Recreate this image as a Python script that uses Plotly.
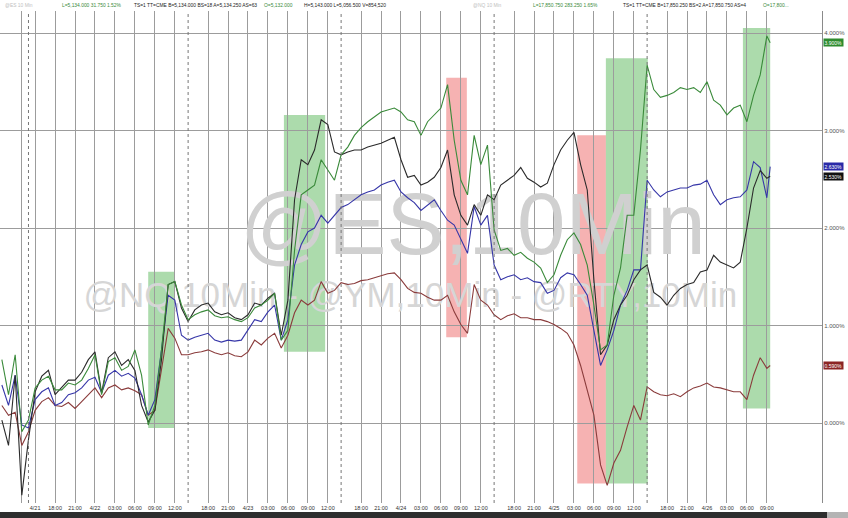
import plotly.graph_objects as go

# ---------------- data ----------------
# x = trading hours, 0 = 4/22 00:00 (daily 17:00-18:00 break removed)
hours = list(range(-14, 102)) + [101.5]

nq_pct = [0.65, 0.29, 0.70, -0.09, 0.03, 0.36, 0.44, 0.48, 0.34, 0.34, 0.41, 0.39, 0.44, 0.56,
          0.70, 0.29, 0.63, 0.67, 0.54, 0.58, 0.75, 0.49, -0.02, 0.18, 0.75, 1.42, 1.45, 1.21, 1.06, 1.11,
          1.14, 1.16, 1.10, 1.08, 1.09, 1.06, 1.04, 1.08, 1.18, 1.21, 1.26, 1.33, 0.85, 0.95,
          1.77, 2.34, 2.39, 2.44, 2.70, 2.59, 2.49, 2.75, 2.83, 2.95, 3.03, 3.09, 3.14, 3.19, 3.21, 3.23,
          3.19, 3.11, 3.09, 2.95, 3.09, 3.16, 3.23, 3.47, 2.90, 2.49, 2.34, 2.95, 2.65, 2.85,
          1.98, 1.77, 1.79, 1.72, 1.75, 1.69, 1.65, 1.59, 1.44, 1.52, 1.72, 1.88, 1.95, 1.83,
          1.62, 1.21, 0.75, 0.80, 1.31, 1.59, 2.13, 2.13, 2.80, 3.67, 3.42, 3.34, 3.36, 3.39,
          3.44, 3.42, 3.44, 3.39, 3.50, 3.31, 3.26, 3.16, 3.23, 3.26, 3.09, 3.36, 3.57, 3.97,
          3.90]

rty_pct = [0.03, -0.23, 0.49, -0.74, -0.17, 0.32, 0.48, 0.54, 0.29, 0.36, 0.44, 0.44, 0.52, 0.65,
           0.73, 0.31, 0.67, 0.73, 0.59, 0.65, 0.54, 0.18, 0.01, 0.13, 0.65, 1.42, 1.45, 1.18, 1.04, 1.16,
           1.21, 1.23, 1.14, 1.11, 1.13, 1.08, 1.06, 1.11, 1.23, 1.21, 1.28, 1.33, 0.90, 1.26,
           2.29, 2.70, 2.65, 2.80, 3.11, 3.06, 2.78, 2.75, 2.78, 2.80, 2.80, 2.83, 2.85, 2.87, 2.90, 2.93,
           2.70, 2.52, 2.54, 2.44, 2.47, 2.52, 2.62, 2.80, 2.34, 2.13, 2.03, 2.24, 2.13, 2.34,
           2.29, 2.44, 2.49, 2.54, 2.62, 2.51, 2.47, 2.42, 2.46, 2.65, 2.80, 2.90, 2.98, 2.65,
           2.39, 1.47, 0.70, 0.80, 1.06, 1.21, 1.31, 1.47, 1.57, 1.62, 1.34, 1.29, 1.21, 1.31,
           1.38, 1.42, 1.44, 1.55, 1.57, 1.72, 1.65, 1.62, 1.59, 1.65, 2.00, 2.41, 2.59, 2.51,
           2.53]

es_pct = [0.39, 0.18, 0.49, -0.02, -0.05, 0.24, 0.32, 0.36, 0.18, 0.21, 0.29, 0.31, 0.36, 0.44,
          0.47, 0.31, 0.49, 0.54, 0.48, 0.51, 0.46, 0.29, 0.08, 0.24, 0.75, 1.31, 1.26, 0.90, 0.85, 0.88,
          0.90, 0.92, 0.85, 0.83, 0.85, 0.84, 0.85, 0.95, 1.06, 1.04, 1.14, 1.21, 0.85, 1.06,
          1.62, 1.83, 1.96, 2.00, 2.13, 2.05, 2.13, 2.21, 2.24, 2.29, 2.34, 2.37, 2.39, 2.44, 2.47, 2.49,
          2.37, 2.31, 2.26, 2.18, 2.24, 2.29, 2.18, 2.08, 2.03, 1.88, 1.74, 2.22, 2.03, 2.13,
          1.62, 1.47, 1.50, 1.52, 1.47, 1.49, 1.45, 1.44, 1.33, 1.36, 1.49, 1.54, 1.52, 1.42,
          1.31, 0.95, 0.59, 0.75, 0.95, 1.21, 1.36, 1.57, 1.57, 2.49, 2.39, 2.32, 2.37, 2.39,
          2.41, 2.41, 2.44, 2.45, 2.49, 2.34, 2.24, 2.29, 2.31, 2.32, 2.39, 2.68, 2.62, 2.31,
          2.63]

ym_pct = [0.18, 0.08, 0.11, -0.23, -0.09, 0.13, 0.22, 0.26, 0.18, 0.17, 0.21, 0.15, 0.22, 0.29,
          0.36, 0.26, 0.36, 0.39, 0.34, 0.36, 0.33, 0.29, 0.08, 0.13, 0.56, 0.97, 0.87, 0.70, 0.70, 0.72,
          0.73, 0.75, 0.72, 0.70, 0.72, 0.69, 0.68, 0.73, 0.85, 0.80, 0.87, 0.92, 0.77, 0.90,
          1.13, 1.26, 1.21, 1.26, 1.45, 1.33, 1.36, 1.44, 1.42, 1.43, 1.46, 1.47, 1.49, 1.51, 1.53, 1.54,
          1.47, 1.38, 1.34, 1.33, 1.29, 1.26, 1.26, 1.31, 1.14, 1.01, 0.92, 1.42, 1.26, 1.21,
          1.11, 1.06, 1.10, 1.12, 1.08, 1.08, 1.06, 1.06, 1.04, 1.01, 0.97, 0.92, 0.80, 0.59,
          0.34, 0.08, -0.43, -0.64, -0.41, -0.28, -0.04, 0.18, 0.03, 0.37, 0.32, 0.29, 0.28, 0.30,
          0.27, 0.32, 0.36, 0.38, 0.41, 0.37, 0.36, 0.34, 0.32, 0.32, 0.24, 0.49, 0.67, 0.56,
          0.59]

grid_hours = [-11, -9, -6, -3, 0, 3, 6, 9, 12, 17, 20, 23, 26, 29, 32, 35, 40, 43, 46, 49, 52, 55,
              58, 63, 66, 69, 72, 75, 78, 81, 86, 89, 92, 95, 98, 101]
grid_labels = ["", "4/21", "18:00", "21:00", "4/22", "03:00", "06:00", "09:00", "12:00",
               "18:00", "21:00", "4/23", "03:00", "06:00", "09:00", "12:00",
               "18:00", "21:00", "4/24", "03:00", "06:00", "09:00", "12:00",
               "18:00", "21:00", "4/25", "03:00", "06:00", "09:00", "12:00",
               "18:00", "21:00", "4/26", "03:00", "06:00", "09:00"]
session_breaks = [-10, 14, 37, 60, 83]

y_ticks = [0, 1, 2, 3, 4]
y_labels = ["0.000%", "1.000%", "2.000%", "3.000%", "4.000%"]

# highlighted windows: (start hour, end hour, low %, high %, kind)
windows = [
    (8.0, 12.0, -0.05, 1.55, "up"),
    (28.4, 34.6, 0.73, 3.16, "up"),
    (52.8, 55.9, 0.88, 3.54, "down"),
    (72.5, 76.8, -0.62, 2.95, "down"),
    (76.8, 83.1, -0.62, 3.74, "up"),
    (97.4, 101.5, 0.15, 4.05, "up"),
]

# ---------------- figure ----------------
W, H = 848, 518
ML, MR, MT, MB = 0, 26, 11, 15
PW = W - ML - MR
PH = H - MT - MB

C_NQ, C_RTY, C_ES, C_YM = "#3a8a3a", "#2a2a2a", "#3636a8", "#8a3b3b"
FONT = "Liberation Sans, Arial, sans-serif"

fig = go.Figure()

# watermarks (drawn first so lines sit over them)
fig.add_trace(go.Scatter(x=[56.8], y=[1.96], text=["@ES,10Min"], mode="text",
                         textfont=dict(size=87, color="#d0d0d0", family=FONT),
                         hoverinfo="skip", showlegend=False))
fig.add_trace(go.Scatter(x=[47.4], y=[1.28], text=["@NQ,10Min - @YM,10Min - @RTY,10Min"], mode="text",
                         textfont=dict(size=35, color="#d6d6d6", family=FONT),
                         hoverinfo="skip", showlegend=False))

for name, vals, col in [("YM", ym_pct, C_YM), ("ES", es_pct, C_ES),
                        ("RTY", rty_pct, C_RTY), ("NQ", nq_pct, C_NQ)]:
    fig.add_trace(go.Scatter(x=hours, y=vals, mode="lines", name=name,
                             line=dict(color=col, width=1.1), showlegend=False))

shapes = []
for t0, t1, lo, hi, kind in windows:
    fill = "rgba(70,175,70,0.45)" if kind == "up" else "rgba(235,85,85,0.45)"
    shapes.append(dict(type="rect", xref="x", yref="y", x0=t0, x1=t1, y0=lo, y1=hi,
                       fillcolor=fill, line=dict(width=0), layer="below"))
for t in session_breaks:
    shapes.append(dict(type="line", xref="x", yref="paper", x0=t, x1=t, y0=0, y1=1,
                       line=dict(color="#777777", width=1, dash="dot")))
# bottom status strip
shapes.append(dict(type="rect", xref="paper", yref="paper", x0=0, x1=W / PW,
                   y0=-MB / PH, y1=-9 / PH, fillcolor="#2e2e2e", line=dict(width=0)))
shapes.append(dict(type="rect", xref="paper", yref="paper", x0=827 / PW, x1=W / PW,
                   y0=-MB / PH, y1=-9 / PH, fillcolor="#b4b4b4", line=dict(width=0)))

annotations = []
# header line
header = [
    (3, "@ES 10 Min", "#c0c0c0"),
    (60, "L=5,134.000 31.750 1.52%", "#3a8a3a"),
    (132, "TS=1 TT=CME B=5,134.000 BS=18 A=5,134.250 AS=63", "#222222"),
    (262, "O=5,132.000", "#3a8a3a"),
    (302, "H=5,143.000 L=5,056.500 V=854,520", "#222222"),
    (471, "@NQ 10 Min", "#c0c0c0"),
    (531, "L=17,850.750 283.250 1.65%", "#3a8a3a"),
    (621, "TS=1 TT=CME B=17,850.250 BS=2 A=17,850.750 AS=4", "#222222"),
    (761, "O=17,800...", "#3a8a3a"),
]
for px, txt, col in header:
    annotations.append(dict(xref="paper", yref="paper", x=px / PW, y=1, xanchor="left",
                            yanchor="bottom", yshift=1, text=txt, showarrow=False,
                            font=dict(size=4.9, color=col, family=FONT)))

# last-value badges
for vals, col in [(nq_pct, "#2e8b2e"), (es_pct, "#2a2aa8"), (rty_pct, "#111111"), (ym_pct, "#8b2525")]:
    annotations.append(dict(xref="paper", yref="y", x=1, y=vals[-1], xanchor="left", xshift=1,
                            text=f"{vals[-1]:.3f}%", showarrow=False, bgcolor=col, borderpad=0.5,
                            font=dict(size=5, color="white", family=FONT)))

fig.update_layout(
    width=W, height=H, autosize=False,
    margin=dict(l=ML, r=MR, t=MT, b=MB, pad=0),
    paper_bgcolor="white", plot_bgcolor="white",
    showlegend=False,
    shapes=shapes, annotations=annotations,
    xaxis=dict(range=[-14.28, 109.29], tickmode="array", tickvals=grid_hours, ticktext=grid_labels,
               showgrid=True, gridcolor="#9c9c9c", gridwidth=1, zeroline=False, showline=False,
               ticks="", tickfont=dict(size=5.5, color="#333333", family=FONT), tickangle=0),
    yaxis=dict(range=[-0.8205, 4.2256], side="right", tickmode="array", tickvals=y_ticks,
               ticktext=y_labels, showgrid=True, gridcolor="#9c9c9c", gridwidth=1,
               zeroline=False, showline=True, linecolor="#8a8a8a", linewidth=1, ticks="",
               tickfont=dict(size=6, color="#555555", family=FONT)),
)

fig.write_html("out.html", config={"displayModeBar": False},
               post_script="document.body.style.margin='0px';document.body.style.padding='0px';")
